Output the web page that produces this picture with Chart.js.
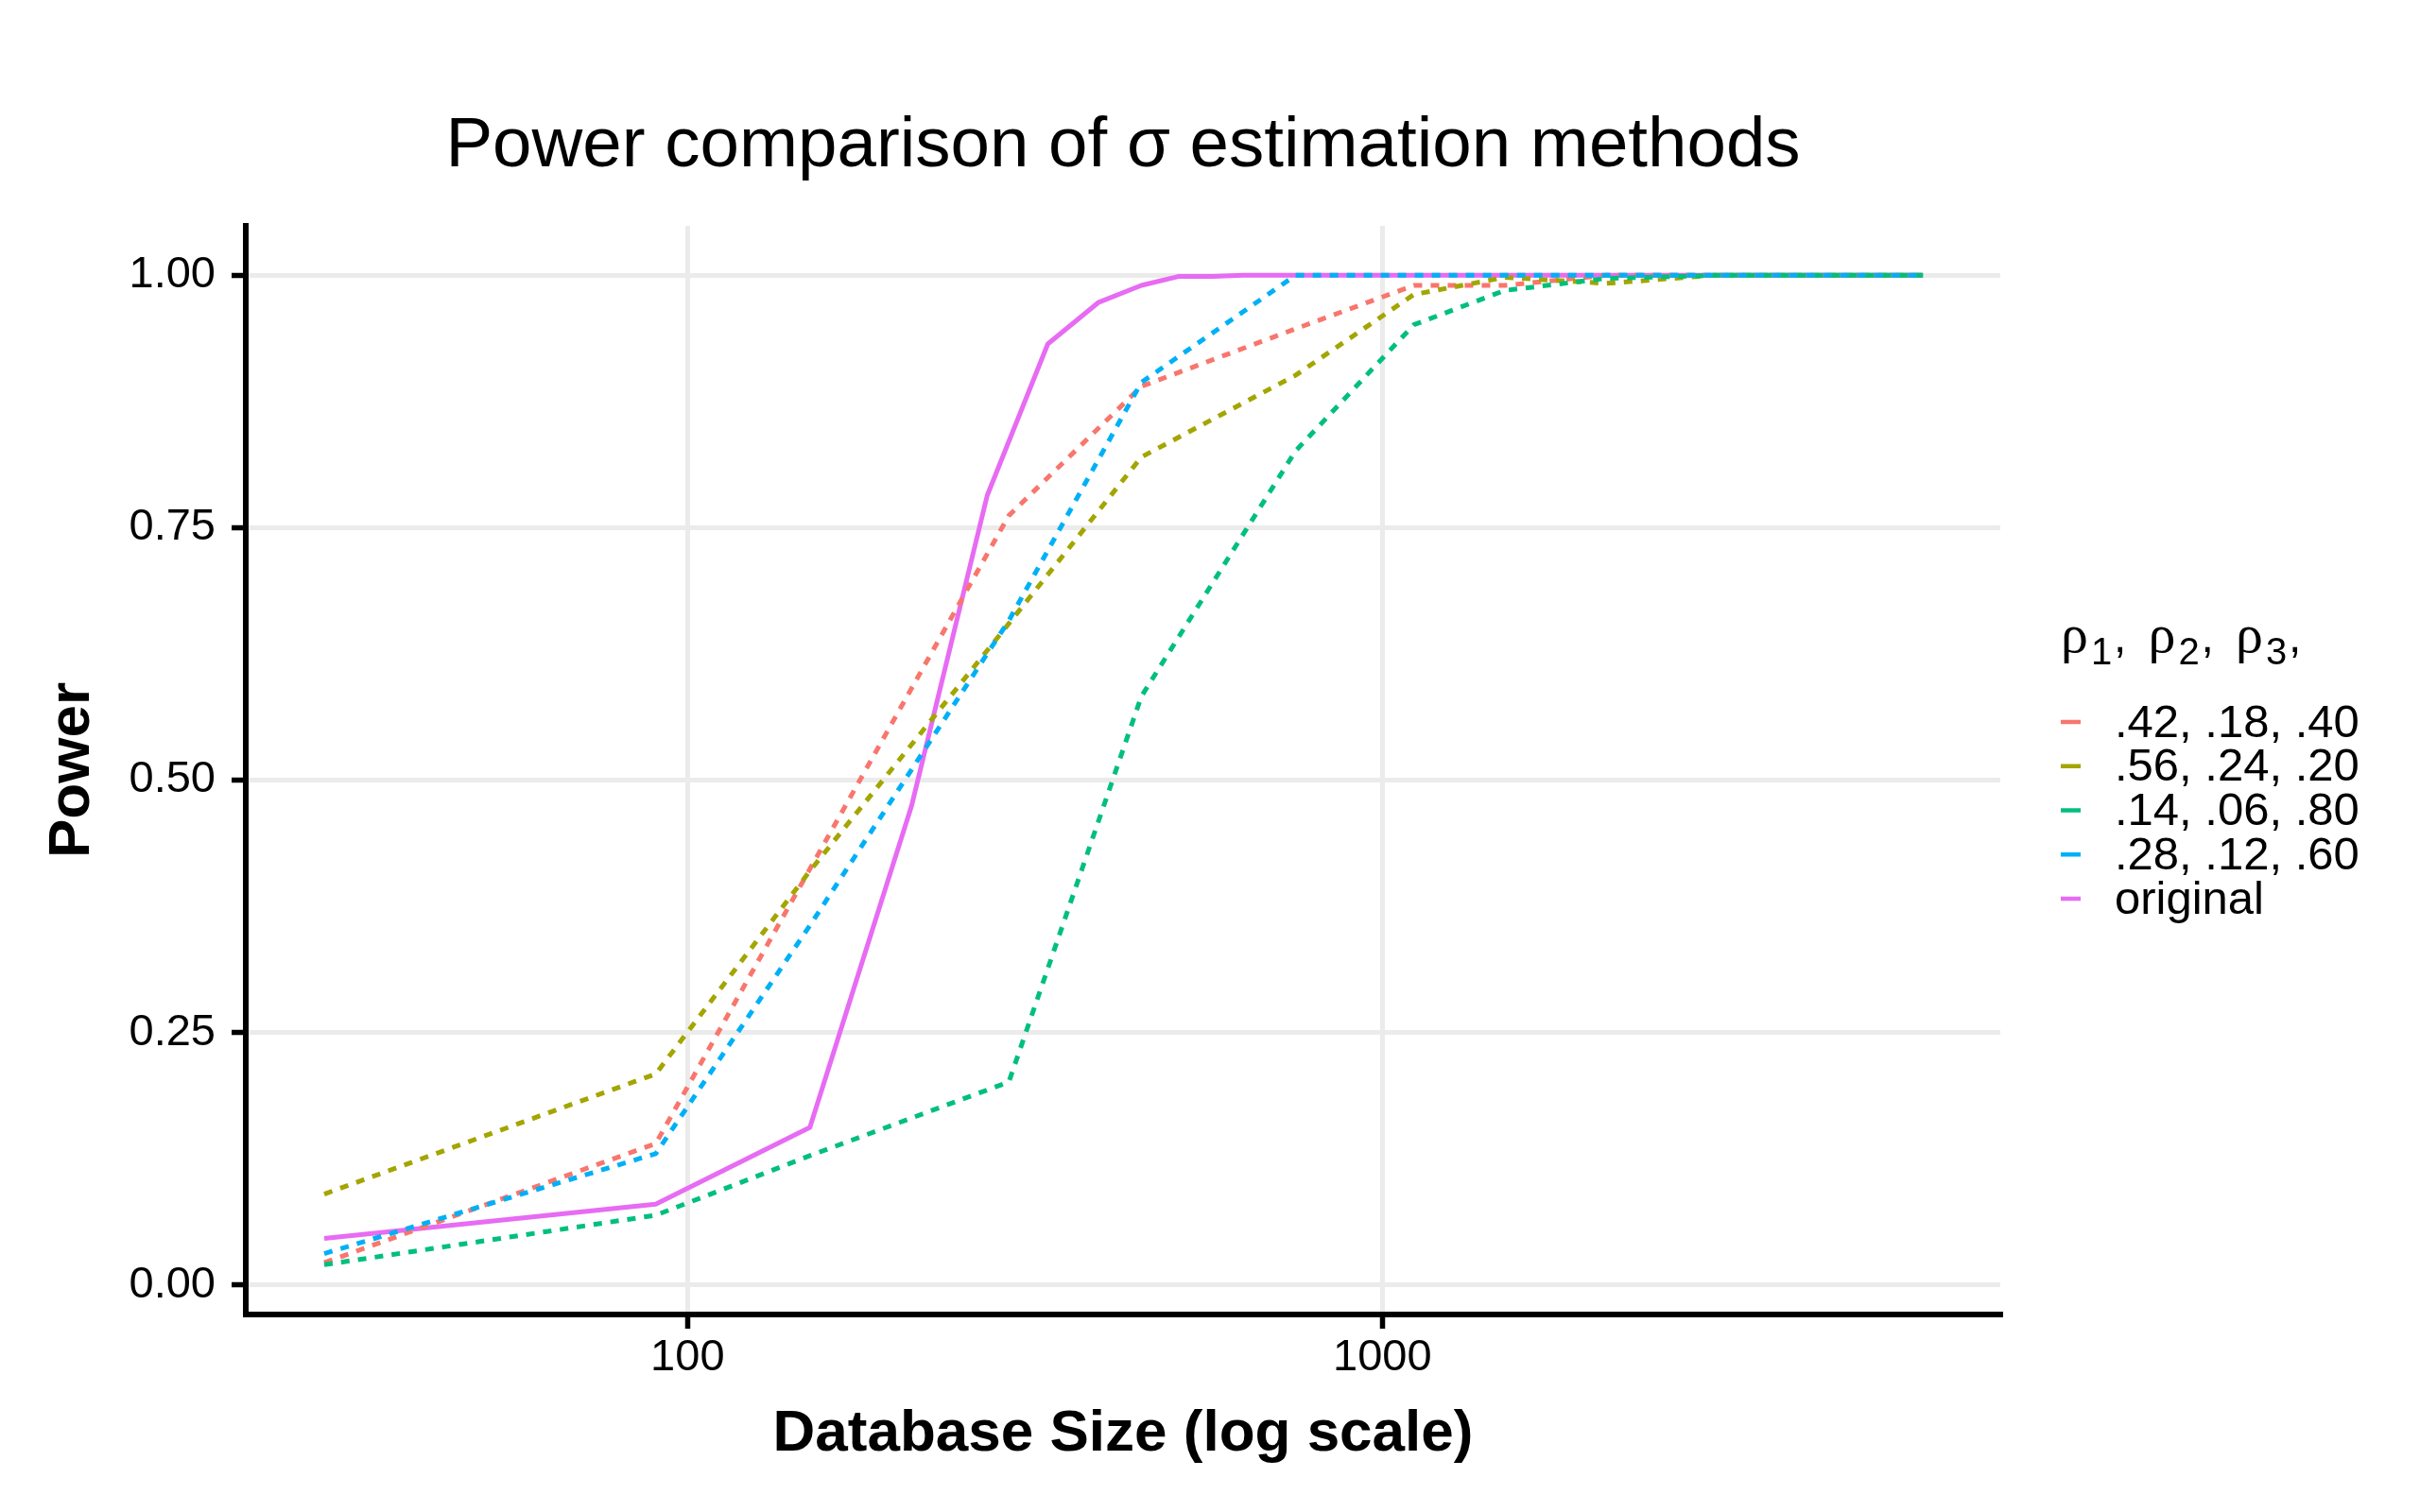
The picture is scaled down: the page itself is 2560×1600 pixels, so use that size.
<!DOCTYPE html>
<html>
<head>
<meta charset="utf-8">
<title>Power comparison of σ estimation methods</title>
<script src="https://cdn.jsdelivr.net/npm/chart.js@4.4.1/dist/chart.umd.min.js"></script>
<style>
  html, body { margin: 0; padding: 0; background: #fff; }
  .wrap { width: 2560px; height: 1600px; }
</style>
</head>
<body>
<div class="wrap"><canvas id="powerChart"></canvas></div>
<script>
// database sizes (x) and power (y)
let sizesDashed = [30, 90, 150, 290, 450, 750, 1110, 1500, 2100, 3000, 6000];
let power42 = [0.022, 0.140, 0.412, 0.762, 0.890, 0.947, 0.990, 0.990, 1.000, 1.000, 1.000];
let power56 = [0.090, 0.209, 0.410, 0.655, 0.820, 0.901, 0.981, 0.998, 0.992, 1.000, 1.000];
let power14 = [0.020, 0.069, 0.128, 0.201, 0.583, 0.826, 0.951, 0.985, 0.997, 1.000, 1.000];
let power28 = [0.031, 0.130, 0.356, 0.658, 0.894, 1.000, 1.000, 1.000, 1.000, 1.000, 1.000];

let sizesOriginal = [30, 90, 150, 210, 270, 330, 390, 450, 510, 570, 630, 750, 1110, 1500, 2100, 3000, 6000];
let powerOriginal = [0.046, 0.080, 0.156, 0.474, 0.782, 0.932, 0.973, 0.990, 0.999, 0.999, 1.000, 1.000, 1.000, 1.000, 1.000, 1.000, 1.000];

// labels, colors, ticks
let seriesLabels = [".42, .18, .40", ".56, .24, .20", ".14, .06, .80", ".28, .12, .60", "original"];
let seriesColors = ["#F8766D", "#A3A500", "#00BF7D", "#00B0F6", "#E76BF3"];
let xTicks = [100, 1000];
let yTicks = [0, 0.25, 0.5, 0.75, 1];

let sans = "'Liberation Sans', Arial, Helvetica, sans-serif";

let toPoints = (xs, ys) => xs.map((x, i) => ({ x: x, y: ys[i] }));

let makeLine = (idx, xs, ys, dashed, drawOrder) => {
  return {
    label: seriesLabels[idx],
    data: toPoints(xs, ys),
    borderColor: seriesColors[idx],
    backgroundColor: seriesColors[idx],
    borderWidth: 5,
    borderDash: dashed ? [9, 9] : [],
    borderJoinStyle: "round",
    pointRadius: 0,
    pointHoverRadius: 0,
    tension: 0,
    fill: false,
    order: drawOrder,
  };
};

// legend on the right, drawn by hand (rho title with subscripts)
let rhoLegend = {
  id: "rhoLegend",
  afterDraw: (chart) => {
    let ctx = chart.ctx;
    ctx.save();
    ctx.fillStyle = "#000";
    ctx.textAlign = "left";
    ctx.textBaseline = "alphabetic";
    for (let i = 0; i < 3; i++) {
      let x0 = 2180 + i * 92.5;
      ctx.font = "58px 'Liberation Serif', 'DejaVu Serif', serif";
      ctx.fillText("ρ", x0, 690);
      ctx.font = "40px " + sans;
      ctx.fillText(String(i + 1), x0 + 32, 703);
      ctx.font = "48px " + sans;
      ctx.fillText(",", x0 + 56, 690);
    }
    chart.data.datasets.forEach((ds, i) => {
      let y = 764 + i * 46.75;
      ctx.strokeStyle = ds.borderColor;
      ctx.lineWidth = 4.5;
      ctx.setLineDash([]);
      ctx.beginPath();
      ctx.moveTo(2180, y);
      ctx.lineTo(2201, y);
      ctx.stroke();
      ctx.font = "49px " + sans;
      ctx.textBaseline = "middle";
      ctx.fillText(ds.label, 2237, y + 2);
    });
    ctx.restore();
  },
};

let chartBox = document.querySelector("#powerChart");

new Chart(chartBox, {
  type: "line",
  data: {
    datasets: [
      makeLine(0, sizesDashed, power42, true, 4),
      makeLine(1, sizesDashed, power56, true, 3),
      makeLine(2, sizesDashed, power14, true, 2),
      makeLine(3, sizesDashed, power28, true, 1),
      makeLine(4, sizesOriginal, powerOriginal, false, 5),
    ],
  },
  options: {
    responsive: true,
    maintainAspectRatio: false,
    devicePixelRatio: 1,
    animation: false,
    events: [],
    layout: { padding: { top: 0, right: 444, bottom: 0, left: 0 } },
    plugins: {
      legend: { display: false },
      tooltip: { enabled: false },
      title: {
        display: true,
        text: "Power comparison of σ estimation methods",
        color: "#000",
        fullSize: false,
        font: { family: sans, size: 74.5, weight: "normal", lineHeight: 1.2 },
        padding: { top: 111, bottom: 38.6 },
      },
    },
    scales: {
      x: {
        type: "logarithmic",
        position: "bottom",
        min: 23.13,
        max: 7752,
        afterBuildTicks: (scale) => {
          scale.ticks = xTicks.map((v) => ({ value: v }));
        },
        afterFit: (scale) => {
          scale.height = 209;
        },
        ticks: {
          callback: (v) => String(v),
          color: "#000",
          font: { family: sans, size: 47 },
          padding: 3,
          autoSkip: false,
          maxRotation: 0,
        },
        grid: {
          color: "#EBEBEB",
          lineWidth: 5,
          tickColor: "#000",
          tickWidth: 5.5,
          tickLength: 15,
        },
        border: { display: true, color: "#000", width: 6 },
        title: {
          display: true,
          text: "Database Size (log scale)",
          color: "#000",
          font: { family: sans, size: 62, weight: "bold", lineHeight: 1.2 },
          padding: { top: 0, bottom: 44.8 },
        },
      },
      y: {
        type: "linear",
        position: "left",
        min: -0.0293,
        max: 1.049,
        afterBuildTicks: (scale) => {
          scale.ticks = yTicks.map((v) => ({ value: v }));
        },
        afterFit: (scale) => {
          scale.width = 260;
        },
        ticks: {
          callback: (v) => Number(v).toFixed(2),
          color: "#000",
          font: { family: sans, size: 47 },
          padding: 17,
        },
        grid: {
          color: "#EBEBEB",
          lineWidth: 5,
          tickColor: "#000",
          tickWidth: 5.5,
          tickLength: 15,
        },
        border: { display: true, color: "#000", width: 6 },
        title: {
          display: true,
          text: "Power",
          color: "#000",
          font: { family: sans, size: 62, weight: "bold", lineHeight: 1.2 },
          padding: { top: 39.5, bottom: 0 },
        },
      },
    },
  },
  plugins: [rhoLegend],
});
</script>
</body>
</html>
